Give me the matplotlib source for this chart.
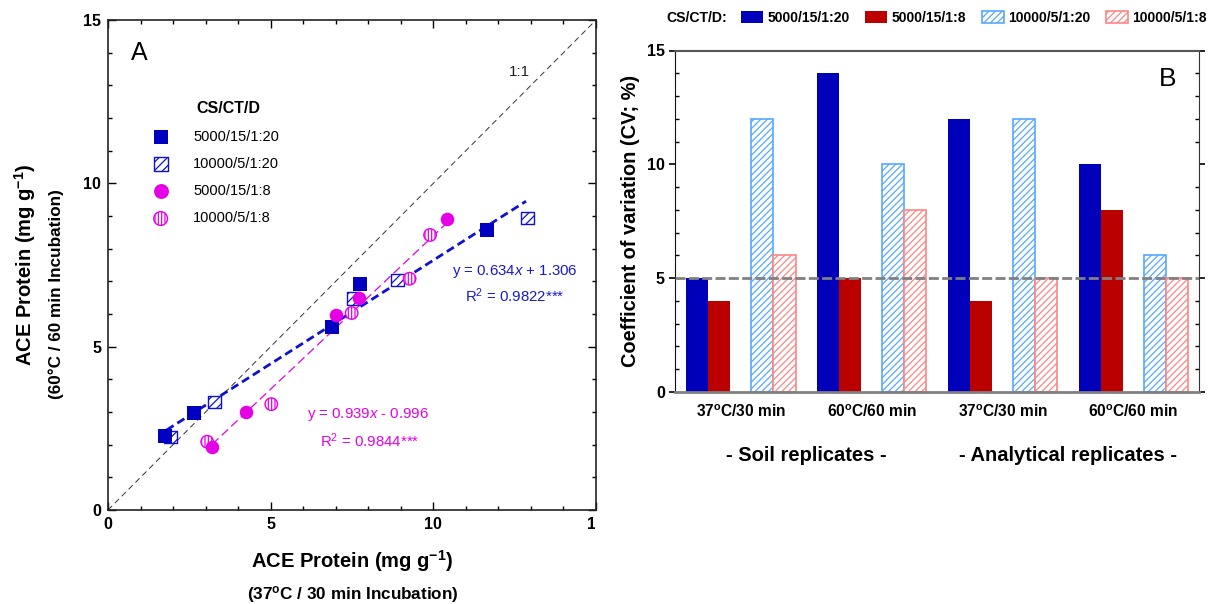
import matplotlib
matplotlib.use("Agg")
import matplotlib.pyplot as plt
import numpy as np
from matplotlib.ticker import MultipleLocator
from matplotlib.transforms import Bbox, TransformedBbox

plt.rcParams['font.family'] = ['Liberation Sans', 'DejaVu Sans']
plt.rcParams['mathtext.fontset'] = 'custom'
plt.rcParams['mathtext.rm'] = 'Liberation Sans'
plt.rcParams['mathtext.it'] = 'Liberation Sans:italic'
plt.rcParams['mathtext.bf'] = 'Liberation Sans:bold'
plt.rcParams['hatch.linewidth'] = 0.9

# ---------------- Panel A data ----------------
x_5000_1_20 = [1.76, 2.64, 6.88, 7.74, 11.64]
y_5000_1_20 = [2.28, 2.97, 5.61, 6.92, 8.58]
x_10000_1_20 = [1.92, 3.28, 7.54, 8.90, 12.89]
y_10000_1_20 = [2.23, 3.30, 6.47, 7.04, 8.94]
x_5000_1_8 = [3.21, 4.23, 7.00, 7.70, 10.43]
y_5000_1_8 = [1.92, 3.01, 5.97, 6.50, 8.90]
x_10000_1_8 = [3.05, 5.02, 7.49, 9.27, 9.90]
y_10000_1_8 = [2.09, 3.24, 6.03, 7.08, 8.42]
fit_blue = (0.634, 1.306)
fit_blue_range = (1.8, 12.85)
fit_mag = (0.939, -0.996)
fit_mag_range = (3.2, 10.45)
series_labels = ['5000/15/1:20', '10000/5/1:20', '5000/15/1:8', '10000/5/1:8']

# ---------------- Panel B data ----------------
conditions = ['37$^{\\mathbf{o}}$C/30 min', '60$^{\\mathbf{o}}$C/60 min',
              '37$^{\\mathbf{o}}$C/30 min', '60$^{\\mathbf{o}}$C/60 min']
cv_5000_1_20 = [5, 14, 12, 10]
cv_5000_1_8 = [4, 5, 4, 8]
cv_10000_1_20 = [12, 10, 12, 6]
cv_10000_1_8 = [6, 8, 5, 5]
groups = ['- Soil replicates -', '- Analytical replicates -']
bar_labels = ['5000/15/1:20', '5000/15/1:8', '10000/5/1:20', '10000/5/1:8']

W, H = 1210, 604
fig = plt.figure(figsize=(W / 100, H / 100), dpi=100)

def fx(px):
    return px / W

def fy(py):
    return 1 - py / H

NAVY = '#0000C0'
MAG = '#E600E6'

# ======== Panel A ========
axA = fig.add_axes([fx(108), fy(510), fx(596) - fx(108), fy(20) - fy(510)])
axA.set_xlim(0, 15)
axA.set_ylim(0, 15)
axA.plot([0, 15], [0, 15], color='#333333', lw=0.7, dashes=(6, 4), zorder=1)

xb = np.array(fit_blue_range)
axA.plot(xb, fit_blue[0] * xb + fit_blue[1], color='#1010D0', lw=2.0, dashes=(3, 1.6), zorder=2)
xm = np.array(fit_mag_range)
axA.plot(xm, fit_mag[0] * xm + fit_mag[1], color=MAG, lw=0.9, dashes=(7, 3.5), zorder=2)

ms = 95
h1 = axA.scatter(x_5000_1_20, y_5000_1_20, s=ms, marker='s', color=NAVY, zorder=4, linewidths=0)
with plt.rc_context({'hatch.color': '#1010D0'}):
    h2 = axA.scatter(x_10000_1_20, y_10000_1_20, s=ms * 0.85, marker='s', facecolors='white',
                     edgecolors='#1010D0', hatch='////', linewidths=1.0, zorder=3)
h3 = axA.scatter(x_5000_1_8, y_5000_1_8, s=ms, marker='o', color=MAG, zorder=4, linewidths=0)
with plt.rc_context({'hatch.color': MAG}):
    h4 = axA.scatter(x_10000_1_8, y_10000_1_8, s=ms * 0.85, marker='o', facecolors='white',
                     edgecolors=MAG, hatch='|||||', linewidths=1.0, zorder=3)

leg = axA.legend([h1, h2, h3, h4], series_labels, loc='upper left',
                 bbox_to_anchor=((153 - 108) / 488, (510 - 130) / 490),
                 frameon=False, fontsize=10.5, handlelength=1.05, handletextpad=1.7,
                 labelspacing=0.9, borderpad=0, borderaxespad=0, scatterpoints=1,
                 markerscale=1.1)
axA.text(2.72, 12.3, 'CS/CT/D', fontsize=11.5, fontweight='bold', ha='left', va='center')

axA.text(0.72, 14.0, 'A', fontsize=18, ha='left', va='center')
axA.text(12.65, 13.4, '1:1', fontsize=11, ha='center', va='center', color='#222222')
axA.text(12.5, 7.3, 'y = 0.634$x$ + 1.306', fontsize=10.8, color='#1a1acc', ha='center', va='center')
axA.text(12.5, 6.55, 'R$^2$ = 0.9822***', fontsize=10.8, color='#1a1acc', ha='center', va='center')
axA.text(7.98, 2.93, 'y = 0.939$x$ - 0.996', fontsize=10.8, color=MAG, ha='center', va='center')
axA.text(8.05, 2.11, 'R$^2$ = 0.9844***', fontsize=10.8, color=MAG, ha='center', va='center')

axA.xaxis.set_major_locator(MultipleLocator(5))
axA.yaxis.set_major_locator(MultipleLocator(5))
axA.xaxis.set_minor_locator(MultipleLocator(1))
axA.yaxis.set_minor_locator(MultipleLocator(1))
axA.tick_params(which='both', direction='in', top=True, right=True, width=1)
axA.tick_params(which='major', length=6, labelsize=11.5, pad=5)
axA.tick_params(which='minor', length=3)
for t in axA.get_xticklabels() + axA.get_yticklabels():
    t.set_fontweight('bold')
for sp in axA.spines.values():
    sp.set_linewidth(1.2)
    sp.set_color('#222222')

clip = TransformedBbox(Bbox([[0, 0], [fx(595), 1]]), fig.transFigure)
fig.canvas.draw()
for t in axA.get_xticklabels():
    t.set_clip_box(clip)
    t.set_clip_on(True)

fig.text(fx(352), fy(561), 'ACE Protein (mg g$^{\\mathbf{-1}}$)', fontsize=14.5, fontweight='bold',
         ha='center', va='center')
fig.text(fx(353), fy(594), '(37$^{\\mathbf{o}}$C / 30 min Incubation)', fontsize=12.3,
         fontweight='bold', ha='center', va='center')
fig.text(fx(25), fy(265), 'ACE Protein (mg g$^{\\mathbf{-1}}$)', fontsize=14.5, fontweight='bold',
         ha='center', va='center', rotation=90)
fig.text(fx(56), fy(294), '(60\u00b0C / 60 min Incubation)', fontsize=12.3, fontweight='bold',
         ha='center', va='center', rotation=90)

# ======== Panel B ========
axB = fig.add_axes([fx(675.3), fy(392), fx(1199) - fx(675.3), fy(50.5) - fy(392)])
axB.set_xlim(-0.5, 7.5)
axB.set_ylim(0, 15)
bw = 0.337
idx = np.arange(len(conditions))
pairA = idx * 2
pairB = idx * 2 + 1
b1 = axB.bar(pairA - bw / 2, cv_5000_1_20, width=bw, color='#0000BB', linewidth=0, zorder=2)
b2 = axB.bar(pairA + bw / 2, cv_5000_1_8, width=bw, color='#BB0000', linewidth=0, zorder=2)
b3 = axB.bar(pairB - bw / 2, cv_10000_1_20, width=bw, facecolor='white', edgecolor='#55A8FF',
             hatch='/////', linewidth=1.2, zorder=2)
b4 = axB.bar(pairB + bw / 2, cv_10000_1_8, width=bw, facecolor='white', edgecolor='#FF8585',
             hatch='/////', linewidth=1.2, zorder=2)
axB.axhline(5, color='#808080', lw=2, dashes=(3.6, 1.2), zorder=3)

axB.set_xticks(idx * 2 + 0.5)
axB.set_xticklabels(conditions, fontsize=11.2, fontweight='bold')
axB.tick_params(axis='x', length=0, pad=8)
axB.yaxis.set_major_locator(MultipleLocator(5))
axB.yaxis.set_minor_locator(MultipleLocator(1))
axB.tick_params(axis='y', which='both', left=True, right=True)
axB.tick_params(axis='y', which='major', direction='out', length=4, labelsize=11.5, width=1.2)
axB.tick_params(axis='y', which='minor', direction='in', length=3, width=1)
for t in axB.get_yticklabels():
    t.set_fontweight('bold')
axB.spines['left'].set_color('#111111')
axB.spines['right'].set_color('#333333')
axB.spines['top'].set_color('#555555')
axB.spines['top'].set_linewidth(1.5)
axB.spines['bottom'].set_color('#808080')
axB.spines['bottom'].set_linewidth(2)
axB.set_ylabel('Coefficient of variation (CV; %)', fontsize=14.4, fontweight='bold', labelpad=5)
axB.text(0.94, 13.75, 'B', fontsize=19, ha='center', va='center', transform=axB.get_yaxis_transform())

for gi, g in enumerate(groups):
    axB.text(gi * 4 + 1.5, -2.8, g, fontsize=14.5, fontweight='bold', ha='center', va='center')

fig.text(fx(666), fy(18), 'CS/CT/D:', fontsize=10.1, fontweight='bold', ha='left', va='center')
fig.legend([b1, b2, b3, b4], bar_labels, loc='center left', bbox_to_anchor=(fx(741), fy(18)),
           ncol=4, frameon=False, prop={'size': 10.1, 'weight': 'bold'}, handlelength=1.56,
           handleheight=0.95, handletextpad=0.3, columnspacing=1.13, borderpad=0, borderaxespad=0)

fig.savefig('out.png', dpi=100)
